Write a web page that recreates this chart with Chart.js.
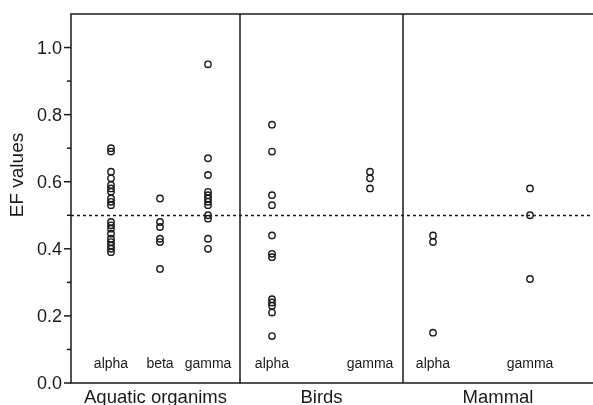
<!DOCTYPE html>
<html>
<head>
<meta charset="utf-8">
<script src="https://cdn.jsdelivr.net/npm/chart.js@4"></script>
<style>
  body { margin: 0; background: #fff; }
  canvas { display: block; }
</style>
</head>
<body>
<canvas id="efChart" width="593" height="405"></canvas>
<script>
// groups and their sub-categories
const groups = ['Aquatic organims', 'Birds', 'Mammal'];
const categories = ['alpha', 'beta', 'gamma', 'alpha', 'gamma', 'alpha', 'gamma'];
const categoryGroup = [0, 0, 0, 1, 1, 2, 2];
// position of each category column along the x axis (axis units)
const categoryX = [40, 89, 137, 201, 299, 362, 459];
const groupBreaks = [169, 332]; // vertical separators between groups
const xMax = 522;

// EF values per column
const aquaticAlpha = [0.70, 0.69, 0.63, 0.61, 0.59, 0.58, 0.57, 0.55, 0.54, 0.53, 0.48, 0.47, 0.46, 0.445, 0.43, 0.42, 0.41, 0.40, 0.39];
const aquaticBeta = [0.55, 0.48, 0.465, 0.43, 0.42, 0.34];
const aquaticGamma = [0.95, 0.67, 0.62, 0.57, 0.56, 0.55, 0.54, 0.53, 0.50, 0.49, 0.43, 0.40];
const birdsAlpha = [0.77, 0.69, 0.56, 0.53, 0.44, 0.385, 0.375, 0.25, 0.24, 0.23, 0.21, 0.14];
const birdsGamma = [0.63, 0.61, 0.58];
const mammalAlpha = [0.44, 0.42, 0.15];
const mammalGamma = [0.58, 0.50, 0.31];
const columns = [aquaticAlpha, aquaticBeta, aquaticGamma, birdsAlpha, birdsGamma, mammalAlpha, mammalGamma];

const refLine = 0.5;
const yMax = 1.1;
const yTicks = [0, 0.1, 0.2, 0.3, 0.4, 0.5, 0.6, 0.7, 0.8, 0.9, 1.0];
const yTitle = 'EF values';
const yTitleAt = 0.62; // y value the axis title is centred on

const FONT = 'Arial, "Liberation Sans", sans-serif';
const INK = '#1a1a1a';

// build scatter datasets from the columns
const datasets = columns.map((vals, i) => ({
    label: categories[i] + ' (' + groups[categoryGroup[i]] + ')',
    data: vals.map(v => ({ x: categoryX[i], y: v })),
    showLine: false,
    pointStyle: 'circle',
    pointRadius: 3.2,
    pointBorderWidth: 1.4,
    pointBorderColor: INK,
    pointBackgroundColor: 'rgba(0,0,0,0)'
}));

// frame, separators, dotted line, ticks and text labels
const decorations = {
    id: 'decorations',
    beforeDatasetsDraw(chart) {
        const ctx = chart.ctx;
        const area = chart.chartArea;
        const x = chart.scales.x;
        const y = chart.scales.y;
        ctx.save();

        // dotted reference line
        ctx.strokeStyle = INK;
        ctx.lineWidth = 1.5;
        ctx.setLineDash([3, 3]);
        const yr = Math.round(y.getPixelForValue(refLine)) + 0.5;
        ctx.beginPath();
        ctx.moveTo(area.left, yr);
        ctx.lineTo(area.right, yr);
        ctx.stroke();
        ctx.setLineDash([]);

        // frame: top, left, bottom
        ctx.lineWidth = 1.5;
        ctx.beginPath();
        ctx.moveTo(area.right, area.top);
        ctx.lineTo(area.left, area.top);
        ctx.lineTo(area.left, area.bottom);
        ctx.lineTo(area.right, area.bottom);
        ctx.stroke();

        // group separators
        groupBreaks.forEach(b => {
            const px = x.getPixelForValue(b);
            ctx.beginPath();
            ctx.moveTo(px, area.top);
            ctx.lineTo(px, area.bottom);
            ctx.stroke();
        });

        // y ticks, major every 0.2 (labelled) and minor in between
        ctx.fillStyle = INK;
        ctx.font = '18px ' + FONT;
        ctx.textAlign = 'right';
        ctx.textBaseline = 'middle';
        yTicks.forEach(v => {
            const py = y.getPixelForValue(v);
            const major = Math.round(v * 10) % 2 === 0;
            ctx.beginPath();
            ctx.moveTo(area.left, py);
            ctx.lineTo(area.left - (major ? 7 : 4), py);
            ctx.stroke();
            if (major) ctx.fillText(v.toFixed(1), area.left - 9, py + 1);
        });

        // category names inside the plot
        ctx.font = '14px ' + FONT;
        ctx.textAlign = 'center';
        ctx.textBaseline = 'alphabetic';
        categories.forEach((c, i) => {
            ctx.fillText(c, x.getPixelForValue(categoryX[i]), area.bottom - 15);
        });

        // group names below the axis
        ctx.font = '18.5px ' + FONT;
        const edges = [0].concat(groupBreaks, [xMax]);
        groups.forEach((g, i) => {
            const cx = (x.getPixelForValue(edges[i]) + x.getPixelForValue(edges[i + 1])) / 2;
            ctx.fillText(g, cx, area.bottom + 20);
        });

        // y axis title
        ctx.translate(18, y.getPixelForValue(yTitleAt));
        ctx.rotate(-Math.PI / 2);
        ctx.font = '19px ' + FONT;
        ctx.textBaseline = 'middle';
        ctx.fillText(yTitle, 0, 0);

        ctx.restore();
    }
};

const ctx = document.getElementById('efChart').getContext('2d');
new Chart(ctx, {
    type: 'scatter',
    data: { datasets: datasets },
    options: {
        responsive: false,
        animation: false,
        devicePixelRatio: 1,
        layout: { autoPadding: false, padding: { top: 14, right: 0, bottom: 22, left: 71 } },
        plugins: {
            legend: { display: false },
            tooltip: { enabled: false }
        },
        scales: {
            x: { type: 'linear', min: 0, max: xMax, display: false },
            y: { type: 'linear', min: 0, max: yMax, display: false }
        }
    },
    plugins: [decorations]
});
</script>
</body>
</html>
